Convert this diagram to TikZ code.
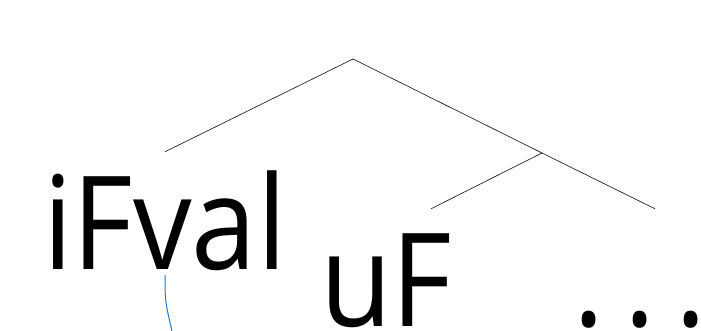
\documentclass[tikz,border=0pt]{standalone}
\usepackage{fontspec}
\setmainfont[FakeStretch=0.9]{Open Sans}
\definecolor{arcblue}{RGB}{30,120,200}
\tikzset{
  leaf/.style={inner sep=0pt, anchor=base, text height=118pt, text depth=5pt,
    font=\fontsize{130}{136}\selectfont},
  branch/.style={line width=0.7pt, black!85},
}

\begin{document}
\begin{tikzpicture}[x=1pt,y=1pt]
  %%%%% START %%%%%
  \useasboundingbox (0,0) rectangle (701,331);

  \coordinate (root) at (353,272);
  \coordinate (mid) at (542,178);

  \node[leaf] (iFval) at (165,61) {iFval};
  \node[leaf, text width=222pt, align=left] (uF) at (431,4) {uF};
  \node[leaf, text width=164pt, align=left] (dots) at (655,4) {.\kern20pt.\kern20pt.};

  \draw[branch] (root) -- (iFval.north);
  \draw[branch] (root) -- (mid) -- (dots.north);
  \draw[branch] (mid) -- (uF.north);

  \coordinate (arcend) at (172,0);
  \draw[arcblue, line width=1pt] (iFval.south) .. controls (165,30) .. (arcend);
  %%%%% END %%%%%
\end{tikzpicture}
\end{document}
